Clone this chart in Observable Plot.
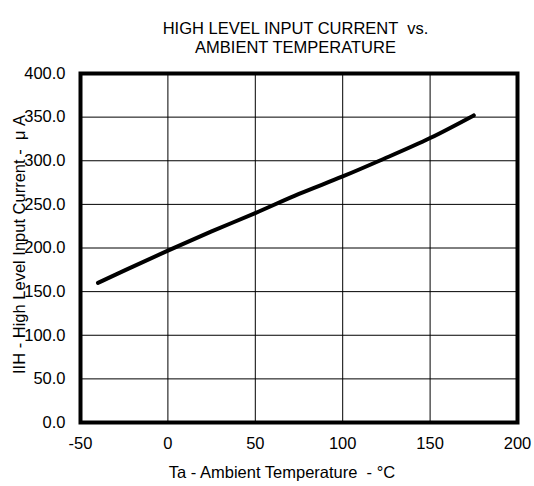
<!DOCTYPE html>
<html>
<head>
<meta charset="utf-8">
<script src="https://cdn.jsdelivr.net/npm/d3@7"></script>
<script src="https://cdn.jsdelivr.net/npm/@observablehq/plot@0.6"></script>
<style>
  html, body { margin: 0; padding: 0; background: #fff; }
  svg text { white-space: pre; }
</style>
</head>
<body>
<div id="chart"></div>
<script>
const temps = [-40, -25, 0, 25, 50, 75, 100, 121, 150, 175];
const currents = [160, 174, 197, 219, 240, 262, 282, 300, 326, 352];
const xTicks = [-50, 0, 50, 100, 150, 200];
const yTicks = [0, 50, 100, 150, 200, 250, 300, 350, 400];
const titleLines = ["HIGH LEVEL INPUT CURRENT  vs.", "AMBIENT TEMPERATURE"];
const xLabel = "Ta - Ambient Temperature  - °C";
const yLabel = "IIH - High Level Input Current -  μ A";

const data = temps.map((t, i) => ({t, v: currents[i]}));
const font = "'Liberation Sans', Arial, sans-serif";
const fs = 16.5;

const chart = Plot.plot({
  width: 534,
  height: 486,
  marginLeft: 80,
  marginRight: 17,
  marginTop: 73,
  marginBottom: 64,
  style: {fontFamily: font, fontSize: fs + "px", color: "#000", background: "#fff", overflow: "visible"},
  x: {domain: [-50, 200], label: null},
  y: {domain: [0, 400], label: null},
  marks: [
    Plot.ruleX(xTicks, {stroke: "#000", strokeWidth: 1}),
    Plot.ruleY(yTicks, {stroke: "#000", strokeWidth: 1}),
    Plot.axisX({ticks: xTicks, tickSize: 0, tickPadding: 15, fontSize: fs, tickFormat: d => String(d), label: null}),
    Plot.axisY({ticks: yTicks, tickSize: 0, tickPadding: 15, fontSize: fs, tickFormat: d => d.toFixed(1), label: null}),
    Plot.line(data, {x: "t", y: "v", stroke: "#000", strokeWidth: 4, curve: "monotone-x"}),
    Plot.frame({stroke: "#000", strokeWidth: 4}),
    Plot.text([titleLines[0]], {frameAnchor: "top", dy: -51.3, dx: -3.5, text: d => d, fontSize: fs}),
    Plot.text([titleLines[1]], {frameAnchor: "top", dy: -32.3, dx: -3.5, text: d => d, fontSize: fs}),
    Plot.text([xLabel], {frameAnchor: "bottom", dy: 55.4, dx: -17, text: d => d, fontSize: fs}),
    Plot.text([yLabel], {frameAnchor: "left", dx: -61, dy: -3.5, rotate: -90, textAnchor: "middle", text: d => d, fontSize: fs})
  ]
});
document.getElementById("chart").appendChild(chart);
</script>
</body>
</html>
